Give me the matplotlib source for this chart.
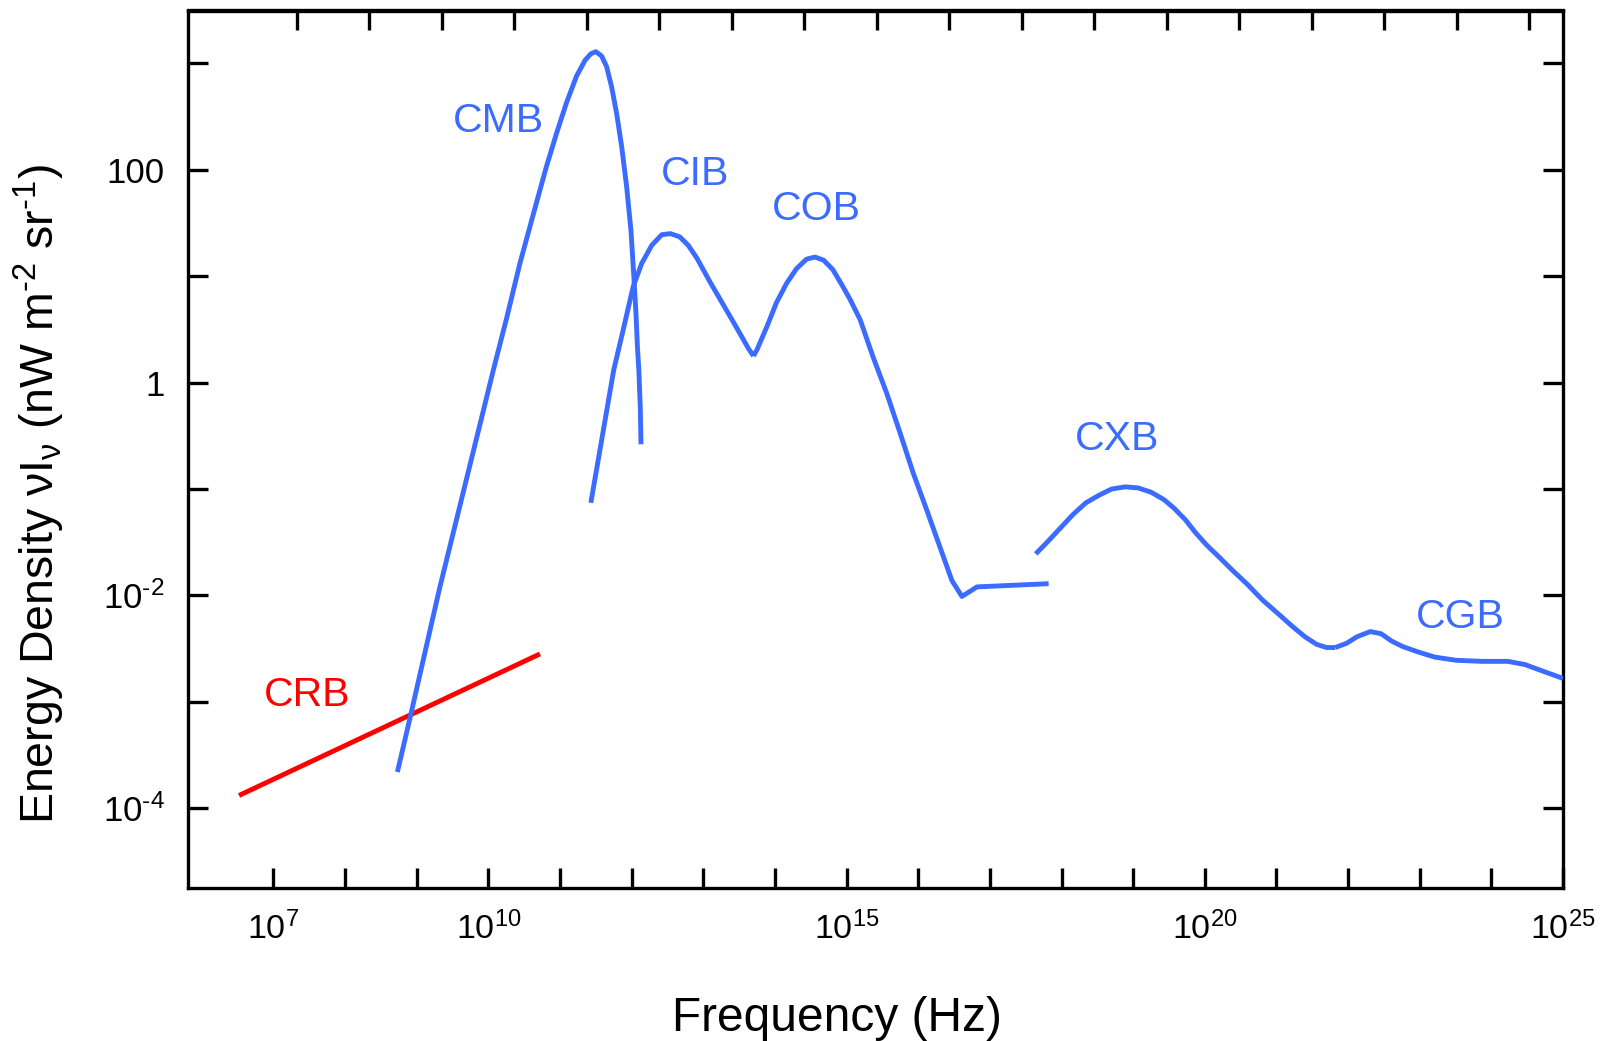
import numpy as np
import matplotlib
matplotlib.use("Agg")
import matplotlib.pyplot as plt
from matplotlib.ticker import FixedLocator, FuncFormatter, NullFormatter, NullLocator

plt.rcParams['font.family'] = ['Liberation Sans', 'DejaVu Sans']
plt.rcParams['mathtext.fontset'] = 'custom'
plt.rcParams['mathtext.rm'] = 'Liberation Sans'
plt.rcParams['mathtext.it'] = 'Liberation Sans:italic'
plt.rcParams['mathtext.bf'] = 'Liberation Sans:bold'
plt.rcParams['mathtext.sf'] = 'Liberation Sans'

# ---------------- data (log10 frequency [Hz], log10 nu I_nu [nW m^-2 sr^-1]) ----------------
crb_logf = [6.52, 10.72]
crb_logI = [-3.88, -2.55]

cmb_logf = [8.73, 8.91, 9.32, 10.07, 10.26, 10.44, 10.63, 10.81, 10.95, 11.09, 11.23, 11.35,
            11.43, 11.50, 11.58, 11.65, 11.72, 11.79, 11.86, 11.93, 11.99, 12.03, 12.06,
            12.08, 12.10, 12.12, 12.13]
cmb_logI = [-3.66, -3.14, -1.93, 0.12, 0.62, 1.12, 1.59, 2.03, 2.34, 2.63, 2.88, 3.03,
            3.09, 3.11, 3.07, 2.97, 2.78, 2.53, 2.22, 1.84, 1.43, 1.00, 0.65,
            0.34, 0.12, -0.23, -0.58]

cib_logf = [11.43, 11.75, 11.88, 12.02, 12.14, 12.28, 12.42, 12.54, 12.67, 12.79, 12.91,
            13.09, 13.28, 13.47, 13.63, 13.70]
cib_logI = [-1.13, 0.12, 0.49, 0.90, 1.12, 1.29, 1.39, 1.40, 1.37, 1.29, 1.17,
            0.95, 0.73, 0.51, 0.32, 0.25]

cob_logf = [13.70, 13.75, 13.89, 14.02, 14.16, 14.30, 14.44, 14.56, 14.68, 14.81, 14.95,
            15.05, 15.19, 15.37, 15.56, 15.75, 15.93, 16.12, 16.30, 16.47, 16.61, 16.82, 17.82]
cob_logI = [0.25, 0.31, 0.53, 0.75, 0.93, 1.07, 1.16, 1.18, 1.15, 1.06, 0.90,
            0.78, 0.59, 0.24, -0.10, -0.48, -0.85, -1.20, -1.54, -1.86, -2.01, -1.92, -1.89]

cxb_logf = [17.64, 17.80, 17.98, 18.16, 18.34, 18.52, 18.70, 18.89, 19.07, 19.25, 19.43,
            19.57, 19.73, 19.87, 20.03, 20.20, 20.38, 20.60, 20.80, 21.02, 21.22, 21.40,
            21.56, 21.70, 21.82]
cxb_logI = [-1.61, -1.50, -1.37, -1.24, -1.13, -1.06, -1.00, -0.98, -0.99, -1.03, -1.10,
            -1.18, -1.29, -1.41, -1.53, -1.64, -1.76, -1.90, -2.04, -2.17, -2.29, -2.39,
            -2.46, -2.49, -2.49]

cgb_logf = [21.82, 21.98, 22.12, 22.31, 22.46, 22.61, 22.76, 22.97, 23.21, 23.51, 23.87,
            24.23, 24.47, 24.71, 25.00]
cgb_logI = [-2.49, -2.45, -2.39, -2.34, -2.36, -2.43, -2.48, -2.53, -2.58, -2.61, -2.62,
            -2.62, -2.65, -2.71, -2.78]

component_names = ['CMB', 'CIB', 'COB', 'CXB', 'CGB', 'CRB']

HY = '\u2010'  # short hyphen used for negative exponents in the original
x_tick_exps = list(range(7, 26))
x_label_text = {7: r'$10^{7}$', 10: r'$10^{10}$', 15: r'$10^{15}$',
                20: r'$10^{20}$', 25: r'$10^{25}$'}
y_tick_exps = list(range(-4, 4))
y_label_text = {2: '100', 0: '1', -2: '$10^{' + HY + '2}$', -4: '$10^{' + HY + '4}$'}

# ---------------- styling ----------------
BLUE = '#3B6BFF'
RED = '#FF0000'
LW = 3.5

fig = plt.figure(figsize=(16.14, 10.41), dpi=100)
ax = fig.add_axes([188 / 1614, 1 - 888 / 1041, (1563 - 188) / 1614, (888 - 10.5) / 1041])
ax.set_xscale('log')
ax.set_yscale('log')
ax.set_xlim(10.0 ** 5.807, 10.0 ** 25)
ax.set_ylim(10.0 ** -4.75, 10.0 ** 3.497)


def curve(lf, li, color):
    ax.plot(10.0 ** np.asarray(lf), 10.0 ** np.asarray(li), color=color, lw=LW,
            solid_capstyle='butt', solid_joinstyle='round', zorder=3)


curve(crb_logf, crb_logI, RED)
curve(cmb_logf, cmb_logI, BLUE)
curve(cib_logf, cib_logI, BLUE)
curve(cob_logf, cob_logI, BLUE)
curve(cxb_logf, cxb_logI, BLUE)
curve(cgb_logf, cgb_logI, BLUE)

lab_kw = dict(fontsize=29.5, ha='center', va='center')
label_pos = {'CMB': (10.14, 2.46), 'CIB': (12.88, 1.96), 'COB': (14.58, 1.63),
             'CXB': (18.77, -0.53), 'CGB': (23.56, -2.20), 'CRB': (7.47, -2.94)}
for name in component_names:
    lx, ly = label_pos[name]
    ax.text(10.0 ** lx, 10.0 ** ly, name, color=RED if name == 'CRB' else BLUE, **lab_kw)

# ticks
ax.xaxis.set_major_locator(FixedLocator([10.0 ** k for k in x_tick_exps]))
ax.xaxis.set_minor_locator(NullLocator())
ax.xaxis.set_major_formatter(FuncFormatter(
    lambda v, p: x_label_text.get(int(round(np.log10(v))), '')))
ax.yaxis.set_major_locator(FixedLocator([10.0 ** k for k in y_tick_exps]))
ax.yaxis.set_minor_locator(NullLocator())
ax.yaxis.set_major_formatter(FuncFormatter(
    lambda v, p: y_label_text.get(int(round(np.log10(v))), '')))

ax.tick_params(axis='both', which='major', direction='in', length=14.5, width=2.4,
               top=False, right=True, color='black')
ax.tick_params(axis='x', labelsize=24.5, pad=17)
ax.tick_params(axis='y', labelsize=25, pad=17)
for s in ax.spines.values():
    s.set_linewidth(2.4)


# top ticks: drawn slightly offset from the bottom ones, as in the original drawing
def to_top(x):
    x = np.asarray(x, dtype=float)
    with np.errstate(divide='ignore', invalid='ignore'):
        return 10.0 ** ((np.log10(x) - 15.927) / 1.0117 + 15.5)


def from_top(s):
    s = np.asarray(s, dtype=float)
    with np.errstate(divide='ignore', invalid='ignore'):
        return 10.0 ** (15.927 + 1.0117 * (np.log10(s) - 15.5))


sec = ax.secondary_xaxis('top', functions=(to_top, from_top))
sec.xaxis.set_major_locator(FixedLocator([10.0 ** k for k in range(7, 25)]))
sec.xaxis.set_minor_locator(NullLocator())
sec.xaxis.set_major_formatter(NullFormatter())
sec.tick_params(direction='in', length=14.5, width=2.4)
sec.spines['top'].set_linewidth(2.4)

fig.text(837 / 1614, 1 - 1031 / 1041, 'Frequency (Hz)', ha='center', va='baseline',
         fontsize=34.5)
fig.text(39 / 1614, 1 - 494 / 1041,
         'Energy Density ν$\\mathrm{I}_{\\mathrm{ν}}$ (nW m$^{' + HY + '2}$ sr$^{' + HY + '1}$)',
         rotation=90, ha='center', va='center', fontsize=33.5)

fig.savefig('out.png', dpi=100)
